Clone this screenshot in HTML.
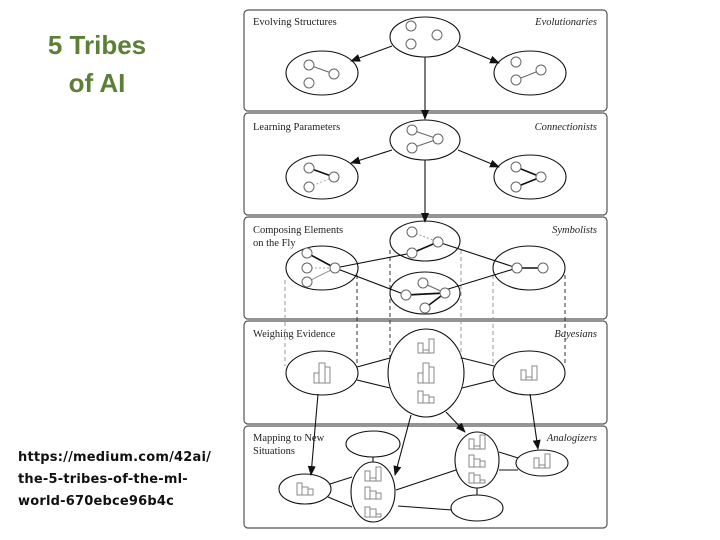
<!DOCTYPE html>
<html><head><meta charset="utf-8"><style>
html,body{margin:0;padding:0;background:#fff;width:720px;height:540px;overflow:hidden}
.t{position:absolute;font-family:"Liberation Sans",sans-serif;color:#5b7f35;font-weight:bold;font-size:26px;text-align:center;line-height:38px}
.u{position:absolute;left:18px;top:447px;font-family:"DejaVu Sans","Liberation Sans",sans-serif;font-size:13px;line-height:22px;color:#111;font-weight:bold;letter-spacing:0.2px}
svg{position:absolute;left:0;top:0}
</style></head><body>
<div class="t" style="left:32px;top:26px;width:130px">5 Tribes<br>of AI</div>
<div class="u">https://medium.com/42ai/<br>the-5-tribes-of-the-ml-<br>world-670ebce96b4c</div>
<svg width="720" height="540" viewBox="0 0 720 540" font-family="Liberation Serif,serif" font-size="10.5">
<defs>
<marker id="a" markerWidth="10" markerHeight="8" refX="9" refY="4" orient="auto" markerUnits="userSpaceOnUse"><path d="M0,0L10,4L0,8z" fill="#111"/></marker>
<g id="b1"><rect x="-8" y="-2" width="5" height="10" fill="none" stroke="#888"/><rect x="-3" y="-12" width="6" height="20" fill="none" stroke="#888"/><rect x="3" y="-8" width="5" height="16" fill="none" stroke="#888"/></g>
<g id="b2"><rect x="-8" y="-5" width="5" height="10" fill="none" stroke="#888"/><rect x="-3" y="2" width="6" height="3" fill="none" stroke="#888"/><rect x="3" y="-9" width="5" height="14" fill="none" stroke="#888"/></g>
<g id="b3"><rect x="-8" y="-7" width="5" height="12" fill="none" stroke="#888"/><rect x="-3" y="-3" width="6" height="8" fill="none" stroke="#888"/><rect x="3" y="-1" width="5" height="6" fill="none" stroke="#888"/></g>
<g id="b4"><rect x="-8" y="-5" width="5" height="10" fill="none" stroke="#888"/><rect x="-3" y="-3" width="6" height="8" fill="none" stroke="#888"/><rect x="3" y="2" width="5" height="3" fill="none" stroke="#888"/></g>
</defs>
<g fill="none" stroke="#555" stroke-width="1.2">
<rect x="244" y="10" width="363" height="101" rx="4"/>
<rect x="244" y="113" width="363" height="102" rx="4"/>
<rect x="244" y="217" width="363" height="102" rx="4"/>
<rect x="244" y="321" width="363" height="103" rx="4"/>
<rect x="244" y="426" width="363" height="102" rx="4"/>
</g>
<g fill="#222">
<text x="253" y="25">Evolving Structures</text>
<text x="253" y="130">Learning Parameters</text>
<text x="253" y="233">Composing Elements</text>
<text x="253" y="246">on the Fly</text>
<text x="253" y="337">Weighing Evidence</text>
<text x="253" y="441">Mapping to New</text>
<text x="253" y="454">Situations</text>
<g font-style="italic" text-anchor="end">
<text x="597" y="25">Evolutionaries</text>
<text x="597" y="130">Connectionists</text>
<text x="597" y="233">Symbolists</text>
<text x="597" y="337">Bayesians</text>
<text x="597" y="441">Analogizers</text>
</g></g>
<g fill="none" stroke-dasharray="4,3">
<line x1="285" y1="280" x2="285" y2="366" stroke="#999"/>
<line x1="357" y1="275" x2="357" y2="366" stroke="#333"/>
<line x1="390" y1="250" x2="390" y2="360" stroke="#333"/>
<line x1="461" y1="250" x2="461" y2="360" stroke="#999"/>
<line x1="493" y1="275" x2="493" y2="366" stroke="#999"/>
<line x1="565" y1="275" x2="565" y2="366" stroke="#333"/>
</g>
<g stroke="#111" stroke-width="1.1" fill="none">
<line x1="392" y1="46" x2="351" y2="61" marker-end="url(#a)"/>
<line x1="458" y1="46" x2="499" y2="63" marker-end="url(#a)"/>
<line x1="425" y1="57" x2="425" y2="119" marker-end="url(#a)"/>
<line x1="392" y1="150" x2="351" y2="163" marker-end="url(#a)"/>
<line x1="458" y1="150" x2="499" y2="167" marker-end="url(#a)"/>
<line x1="425" y1="160" x2="425" y2="222" marker-end="url(#a)"/>
<line x1="335" y1="268" x2="412" y2="253"/>
<line x1="335" y1="268" x2="406" y2="295"/>
<line x1="438" y1="242" x2="517" y2="268"/>
<line x1="445" y1="290" x2="517" y2="268"/>
<line x1="357" y1="367" x2="390" y2="358"/>
<line x1="357" y1="380" x2="390" y2="388"/>
<line x1="462" y1="358" x2="494" y2="366"/>
<line x1="462" y1="388" x2="494" y2="380"/>
<line x1="318" y1="394" x2="311" y2="475" marker-end="url(#a)"/>
<line x1="411" y1="415" x2="395" y2="475" marker-end="url(#a)"/>
<line x1="446" y1="412" x2="465" y2="432" marker-end="url(#a)"/>
<line x1="530" y1="394" x2="538" y2="449" marker-end="url(#a)"/>
<line x1="373" y1="457" x2="373" y2="462"/>
<line x1="330" y1="484" x2="352" y2="477"/>
<line x1="328" y1="497" x2="352" y2="507"/>
<line x1="396" y1="490" x2="456" y2="470"/>
<line x1="398" y1="506" x2="452" y2="510"/>
<line x1="477" y1="488" x2="477" y2="495"/>
<line x1="499" y1="452" x2="518" y2="458"/>
<line x1="499" y1="470" x2="518" y2="470"/>
</g>
<g fill="none" stroke="#111" stroke-width="1.1">
<ellipse cx="425" cy="37" rx="35" ry="20"/>
<ellipse cx="322" cy="73" rx="36" ry="22"/>
<ellipse cx="530" cy="73" rx="36" ry="22"/>
<ellipse cx="425" cy="140" rx="35" ry="20"/>
<ellipse cx="322" cy="177" rx="36" ry="22"/>
<ellipse cx="530" cy="177" rx="36" ry="22"/>
<ellipse cx="425" cy="241" rx="35" ry="20"/>
<ellipse cx="425" cy="293" rx="35" ry="21"/>
<ellipse cx="322" cy="268" rx="36" ry="22"/>
<ellipse cx="529" cy="268" rx="36" ry="22"/>
<ellipse cx="426" cy="373" rx="38" ry="44"/>
<ellipse cx="322" cy="373" rx="36" ry="22"/>
<ellipse cx="529" cy="373" rx="36" ry="22"/>
<ellipse cx="373" cy="444" rx="27" ry="13"/>
<ellipse cx="373" cy="492" rx="22" ry="30"/>
<ellipse cx="305" cy="489" rx="26" ry="15"/>
<ellipse cx="477" cy="460" rx="22" ry="28"/>
<ellipse cx="542" cy="463" rx="26" ry="13"/>
<ellipse cx="477" cy="508" rx="26" ry="13"/>
</g>
<g stroke="#666" fill="none">
<line x1="309" y1="65" x2="334" y2="74"/>
<line x1="516" y1="80" x2="541" y2="70"/>
<line x1="412" y1="130" x2="438" y2="139"/>
<line x1="412" y1="148" x2="438" y2="139"/>
<line x1="309" y1="168" x2="334" y2="177" stroke="#111" stroke-width="1.6"/>
<line x1="309" y1="187" x2="334" y2="177" stroke="#aaa" stroke-dasharray="2,2"/>
<line x1="516" y1="167" x2="541" y2="177" stroke="#111" stroke-width="1.6"/>
<line x1="516" y1="187" x2="541" y2="177" stroke="#111" stroke-width="1.6"/>
<line x1="307" y1="253" x2="335" y2="268" stroke="#111" stroke-width="1.6"/>
<line x1="307" y1="268" x2="335" y2="268" stroke="#aaa" stroke-dasharray="2,2"/>
<line x1="307" y1="282" x2="335" y2="268" stroke="#999"/>
<line x1="412" y1="232" x2="438" y2="242" stroke="#999" stroke-dasharray="2,2"/>
<line x1="412" y1="253" x2="438" y2="242" stroke="#111" stroke-width="1.6"/>
<line x1="406" y1="295" x2="445" y2="293" stroke="#111" stroke-width="1.8"/>
<line x1="423" y1="283" x2="445" y2="293"/>
<line x1="425" y1="308" x2="445" y2="293" stroke="#111" stroke-width="1.6"/>
<line x1="517" y1="268" x2="543" y2="268" stroke="#111" stroke-width="1.6"/>
</g>
<g fill="#fff" stroke="#666">
<circle cx="411" cy="26" r="5"/><circle cx="437" cy="35" r="5"/><circle cx="411" cy="44" r="5"/>
<circle cx="309" cy="65" r="5"/><circle cx="334" cy="74" r="5"/><circle cx="309" cy="83" r="5"/>
<circle cx="516" cy="62" r="5"/><circle cx="541" cy="70" r="5"/><circle cx="516" cy="80" r="5"/>
<circle cx="412" cy="130" r="5"/><circle cx="438" cy="139" r="5"/><circle cx="412" cy="148" r="5"/>
<circle cx="309" cy="168" r="5"/><circle cx="334" cy="177" r="5"/><circle cx="309" cy="187" r="5"/>
<circle cx="516" cy="167" r="5"/><circle cx="541" cy="177" r="5"/><circle cx="516" cy="187" r="5"/>
<circle cx="307" cy="253" r="5"/><circle cx="307" cy="268" r="5"/><circle cx="307" cy="282" r="5"/><circle cx="335" cy="268" r="5"/>
<circle cx="412" cy="232" r="5"/><circle cx="438" cy="242" r="5"/><circle cx="412" cy="253" r="5"/>
<circle cx="406" cy="295" r="5"/><circle cx="445" cy="293" r="5"/><circle cx="423" cy="283" r="5"/><circle cx="425" cy="308" r="5"/>
<circle cx="517" cy="268" r="5"/><circle cx="543" cy="268" r="5"/>
</g>
<use href="#b2" x="426" y="348"/><use href="#b1" x="426" y="375"/><use href="#b3" x="426" y="398"/>
<use href="#b1" x="322" y="375"/><use href="#b2" x="529" y="375"/>
<use href="#b2" x="373" y="476"/><use href="#b3" x="373" y="494"/><use href="#b4" x="373" y="512"/>
<use href="#b3" x="305" y="490"/>
<use href="#b2" x="477" y="444"/><use href="#b3" x="477" y="462"/><use href="#b4" x="477" y="478"/>
<use href="#b2" x="542" y="463"/>
</svg>
</body></html>
